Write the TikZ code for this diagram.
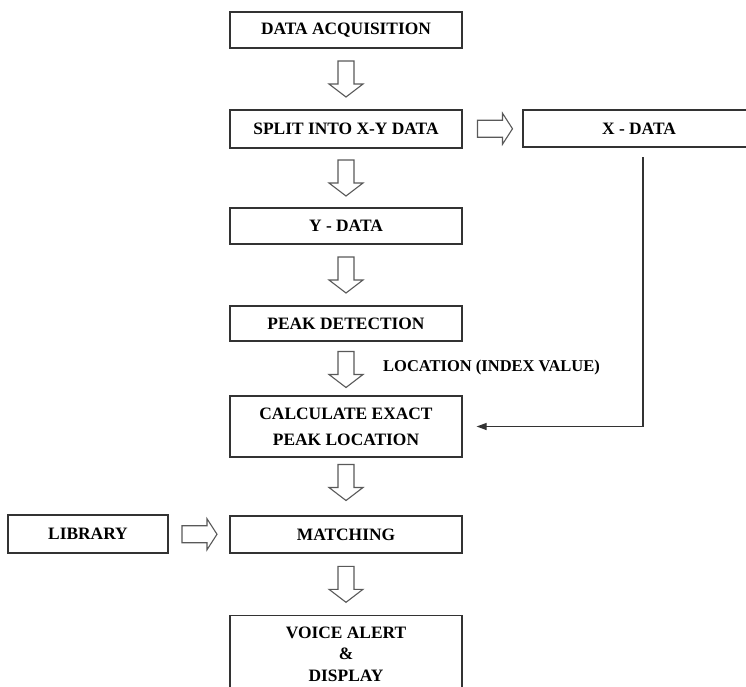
\documentclass[tikz,border=0pt]{standalone}
\usepackage{fontspec}
\setmainfont{Liberation Serif}
\usetikzlibrary{calc,arrows.meta}
\tikzset{
  box/.style={draw=black!80, line width=1.2pt, fill=white, font=\fontsize{17.4}{21}\selectfont\bfseries, align=center, inner sep=0pt},
  blockarrow/.style={draw=black!65, line width=1.1pt, fill=white, line join=miter},
  downarr/.pic={\draw[blockarrow] (-8,-18) -- (-8,5) -- (-17,5) -- (0,18) -- (17,5) -- (8,5) -- (8,-18) -- cycle;},
  rightarr/.pic={\draw[blockarrow] (-17,-8.5) -- (8,-8.5) -- (8,-15.5) -- (18,0) -- (8,15.5) -- (8,8.5) -- (-17,8.5) -- cycle;},
  link/.style={draw=black!80, line width=1.1pt, -{Triangle[length=10pt,width=7pt]}}
}
\begin{document}
\begin{tikzpicture}[x=1pt,y=-1pt]
\useasboundingbox (0,0) rectangle (746,686);
\node[box, minimum width=232pt, minimum height=36pt] (acq) at (346,30) {DATA ACQUISITION};
\node[box, minimum width=232pt, minimum height=38pt] (split) at (346,129) {SPLIT INTO X-Y DATA};
\node[box, minimum width=232pt, minimum height=37pt] (xdata) at (639,128.5) {X - DATA};
\node[box, minimum width=232pt, minimum height=36pt] (ydata) at (346,226) {Y - DATA};
\node[box, minimum width=232pt, minimum height=35pt] (peak) at (346,323.5) {PEAK DETECTION};
\node[box, minimum width=232pt, minimum height=61pt, font=\fontsize{17.4}{26}\selectfont\bfseries] (calc) at (346,426.5) {CALCULATE EXACT\\PEAK LOCATION};
\node[box, minimum width=160pt, minimum height=38pt] (lib) at (88,534) {LIBRARY};
\node[box, minimum width=232pt, minimum height=37pt] (match) at (346,534.5) {MATCHING};
\node[box, minimum width=232pt, minimum height=90pt, anchor=north] (voice) at (346,615) {};
\node[font=\fontsize{17.4}{21.5}\selectfont\bfseries, align=center, anchor=north] (voicetext) at (346,623) {VOICE ALERT\\\&\\DISPLAY};
\node[font=\fontsize{16.5}{20}\selectfont\bfseries, anchor=west, inner sep=0pt] (loclabel) at (383,368) {LOCATION (INDEX VALUE)};

\pic at ($(acq.south)!.5!(split.north)$) {downarr};
\pic at ($(split.south)!.5!(ydata.north)$) {downarr};
\pic at ($(ydata.south)!.5!(peak.north)$) {downarr};
\pic at ($(peak.south)!.5!(calc.north)+(0,1)$) {downarr};
\pic at ($(calc.south)!.5!(match.north)+(0,-4)$) {downarr};
\pic at ($(match.south)!.5!(voice.north)$) {downarr};
\pic at ($(split.east)!.5!(xdata.west)+(2,0)$) {rightarr};
\pic at ($(lib.east)!.5!(match.west)$) {rightarr};

\coordinate (xd) at (643,157);
\draw[link, shorten >=14pt] (xd) |- (calc.east);
\end{tikzpicture}
\end{document}
